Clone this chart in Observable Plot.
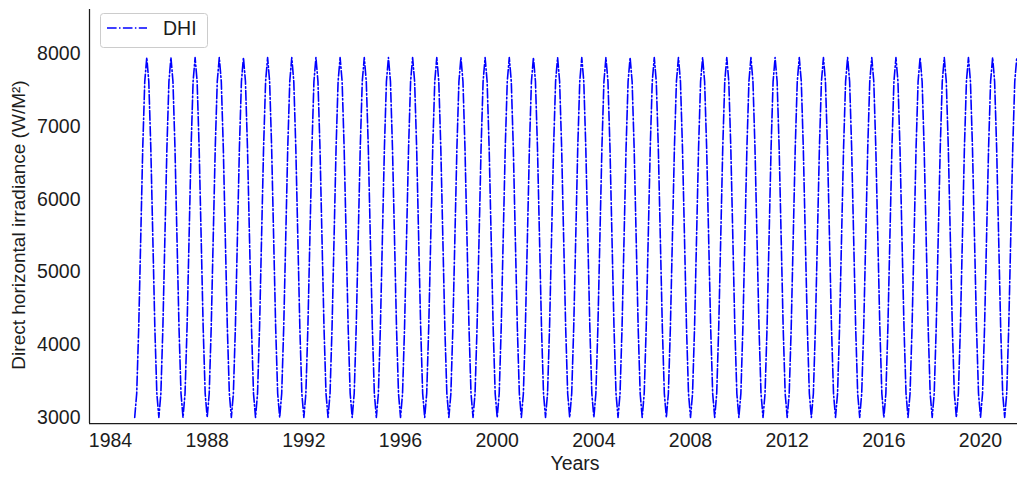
<!DOCTYPE html>
<html>
<head>
<meta charset="utf-8">
<script src="https://cdn.jsdelivr.net/npm/d3@7"></script>
<script src="https://cdn.jsdelivr.net/npm/@observablehq/plot@0.6"></script>
<style>
  html, body { margin: 0; padding: 0; background: #ffffff; overflow: hidden; }
  #chart svg { display: block; }
</style>
</head>
<body>
<div id="chart"></div>
<script>
// ---- Data (monthly values, Jan..Dec) ----
const years = [1985, 1986, 1987, 1988, 1989, 1990, 1991, 1992, 1993, 1994,
               1995, 1996, 1997, 1998, 1999, 2000, 2001, 2002, 2003, 2004,
               2005, 2006, 2007, 2008, 2009, 2010, 2011, 2012, 2013, 2014,
               2015, 2016, 2017, 2018, 2019, 2020, 2021];

const dhiByYear = [
  [3000, 3330, 4240, 5470, 6710, 7620, 7950, 7620, 6710, 5480, 4240, 3330], // 1985
  [3000, 3330, 4240, 5480, 6710, 7620, 7950, 7620, 6710, 5470, 4240, 3330], // 1986
  [3000, 3330, 4240, 5470, 6710, 7620, 7950, 7620, 6710, 5480, 4240, 3330], // 1987
  [3000, 3330, 4240, 5480, 6710, 7620, 7950, 7620, 6710, 5470, 4240, 3330], // 1988
  [3000, 3330, 4240, 5470, 6710, 7620, 7950, 7620, 6710, 5480, 4240, 3330], // 1989
  [3000, 3330, 4240, 5480, 6710, 7620, 7950, 7620, 6710, 5470, 4240, 3330], // 1990
  [3000, 3330, 4240, 5470, 6710, 7620, 7950, 7620, 6710, 5480, 4240, 3330], // 1991
  [3000, 3330, 4240, 5480, 6710, 7620, 7950, 7620, 6710, 5470, 4240, 3330], // 1992
  [3000, 3330, 4240, 5470, 6710, 7620, 7950, 7620, 6710, 5480, 4240, 3330], // 1993
  [3000, 3330, 4240, 5480, 6710, 7620, 7950, 7620, 6710, 5470, 4240, 3330], // 1994
  [3000, 3330, 4240, 5470, 6710, 7620, 7950, 7620, 6710, 5480, 4240, 3330], // 1995
  [3000, 3330, 4240, 5480, 6710, 7620, 7950, 7620, 6710, 5470, 4240, 3330], // 1996
  [3000, 3330, 4240, 5470, 6710, 7620, 7950, 7620, 6710, 5480, 4240, 3330], // 1997
  [3000, 3330, 4240, 5480, 6710, 7620, 7950, 7620, 6710, 5470, 4240, 3330], // 1998
  [3000, 3330, 4240, 5470, 6710, 7620, 7950, 7620, 6710, 5480, 4240, 3330], // 1999
  [3000, 3330, 4240, 5480, 6710, 7620, 7950, 7620, 6710, 5470, 4240, 3330], // 2000
  [3000, 3330, 4240, 5470, 6710, 7620, 7950, 7620, 6710, 5480, 4240, 3330], // 2001
  [3000, 3330, 4240, 5480, 6710, 7620, 7950, 7620, 6710, 5470, 4240, 3330], // 2002
  [3000, 3330, 4240, 5470, 6710, 7620, 7950, 7620, 6710, 5480, 4240, 3330], // 2003
  [3000, 3330, 4240, 5480, 6710, 7620, 7950, 7620, 6710, 5470, 4240, 3330], // 2004
  [3000, 3330, 4240, 5470, 6710, 7620, 7950, 7620, 6710, 5480, 4240, 3330], // 2005
  [3000, 3330, 4240, 5480, 6710, 7620, 7950, 7620, 6710, 5470, 4240, 3330], // 2006
  [3000, 3330, 4240, 5470, 6710, 7620, 7950, 7620, 6710, 5480, 4240, 3330], // 2007
  [3000, 3330, 4240, 5480, 6710, 7620, 7950, 7620, 6710, 5470, 4240, 3330], // 2008
  [3000, 3330, 4240, 5470, 6710, 7620, 7950, 7620, 6710, 5480, 4240, 3330], // 2009
  [3000, 3330, 4240, 5480, 6710, 7620, 7950, 7620, 6710, 5470, 4240, 3330], // 2010
  [3000, 3330, 4240, 5470, 6710, 7620, 7950, 7620, 6710, 5480, 4240, 3330], // 2011
  [3000, 3330, 4240, 5480, 6710, 7620, 7950, 7620, 6710, 5470, 4240, 3330], // 2012
  [3000, 3330, 4240, 5470, 6710, 7620, 7950, 7620, 6710, 5480, 4240, 3330], // 2013
  [3000, 3330, 4240, 5480, 6710, 7620, 7950, 7620, 6710, 5470, 4240, 3330], // 2014
  [3000, 3330, 4240, 5470, 6710, 7620, 7950, 7620, 6710, 5480, 4240, 3330], // 2015
  [3000, 3330, 4240, 5480, 6710, 7620, 7950, 7620, 6710, 5470, 4240, 3330], // 2016
  [3000, 3330, 4240, 5470, 6710, 7620, 7950, 7620, 6710, 5480, 4240, 3330], // 2017
  [3000, 3330, 4240, 5480, 6710, 7620, 7950, 7620, 6710, 5470, 4240, 3330], // 2018
  [3000, 3330, 4240, 5470, 6710, 7620, 7950, 7620, 6710, 5480, 4240, 3330], // 2019
  [3000, 3330, 4240, 5480, 6710, 7620, 7950, 7620, 6710, 5470, 4240, 3330], // 2020
  [3000, 3330, 4240, 5470, 6710, 7620, 7950]                                // 2021 (Jan..Jul)
];

const xTicks = [1984, 1988, 1992, 1996, 2000, 2004, 2008, 2012, 2016, 2020];
const yTicks = [3000, 4000, 5000, 6000, 7000, 8000];
const xDomain = [1983.13, 2021.53];
const yDomain = [2917, 8610];

const seriesName = "DHI";
const xLabel = "Years";
const yLabel = "Direct horizontal irradiance (W/M\u00B2)";

// ---- Build the table ----
const data = years.flatMap((yr, i) => dhiByYear[i].map((v, m) => ({t: yr + m / 12, v})));

const FONT = "'Liberation Sans', Arial, Helvetica, sans-serif";
const TEXT = "#1c1c1c";
const LINE = "#0000ff";
const DASH = "9.6,2.4,1.5,2.4";
const FS = 19.5;

const W = 1017, H = 477;
const M = {top: 9, right: 0, bottom: 54, left: 89};

const chart = Plot.plot({
  width: W,
  height: H,
  marginTop: M.top,
  marginRight: M.right,
  marginBottom: M.bottom,
  marginLeft: M.left,
  style: {fontFamily: FONT, fontSize: FS + "px", color: TEXT, background: "#ffffff", overflow: "visible"},
  x: {type: "linear", domain: xDomain, label: null},
  y: {type: "linear", domain: yDomain, label: null},
  marks: [
    Plot.line(data, {x: "t", y: "v", stroke: LINE, strokeWidth: 1.6, strokeDasharray: DASH, clip: true}),
    Plot.ruleX([xDomain[0]], {stroke: TEXT, strokeWidth: 1.25}),
    Plot.ruleY([yDomain[0]], {stroke: TEXT, strokeWidth: 1.25}),
    Plot.axisX({ticks: xTicks, tickFormat: d => String(d), tickSize: 0, tickPadding: 10, label: null, fill: TEXT, fontSize: FS}),
    Plot.axisY({ticks: yTicks, tickFormat: d => String(d), tickSize: 0, tickPadding: 9, label: null, fill: TEXT, fontSize: FS})
  ]
});

document.getElementById("chart").appendChild(chart);

// ---- Axis titles and legend ----
const svg = d3.select(chart);

svg.append("text")
  .attr("x", 575).attr("y", 470)
  .attr("text-anchor", "middle")
  .attr("font-family", FONT).attr("font-size", FS).attr("fill", TEXT)
  .text(xLabel);

svg.append("text")
  .attr("transform", "translate(25,225) rotate(-90)")
  .attr("text-anchor", "middle")
  .attr("font-family", FONT).attr("font-size", 19).attr("fill", TEXT)
  .text(yLabel);

const lg = svg.append("g");
lg.append("rect")
  .attr("x", 100.5).attr("y", 13.5).attr("width", 107).attr("height", 34)
  .attr("rx", 3).attr("ry", 3)
  .attr("fill", "#ffffff").attr("fill-opacity", 0.8)
  .attr("stroke", "#cccccc").attr("stroke-width", 1);
lg.append("line")
  .attr("x1", 107).attr("x2", 147).attr("y1", 28).attr("y2", 28)
  .attr("stroke", LINE).attr("stroke-width", 1.6).attr("stroke-dasharray", DASH);
lg.append("text")
  .attr("x", 163).attr("y", 35)
  .attr("text-anchor", "start")
  .attr("font-family", FONT).attr("font-size", FS).attr("fill", TEXT)
  .text(seriesName);
</script>
</body>
</html>
